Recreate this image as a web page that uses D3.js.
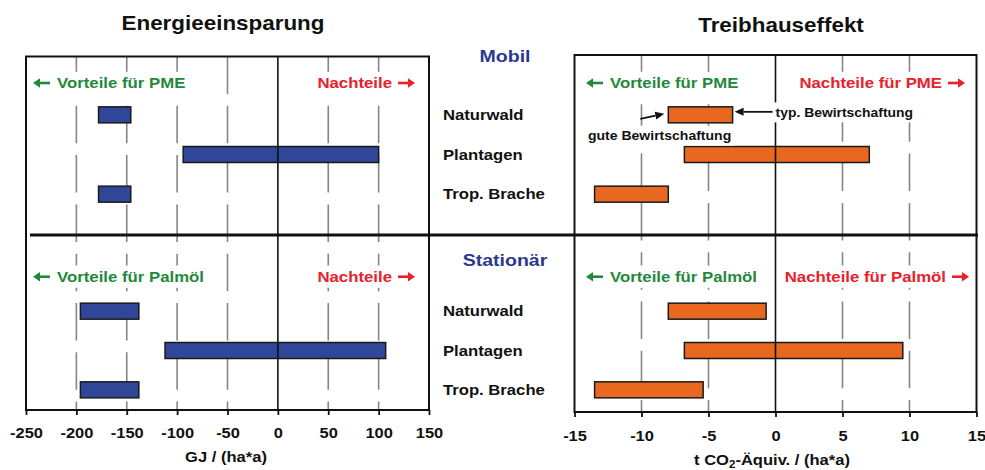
<!DOCTYPE html>
<html><head><meta charset="utf-8">
<script src="https://cdn.jsdelivr.net/npm/d3@7"></script>
<style>
body{margin:0;background:#fff}
svg{display:block}
text{font-family:"Liberation Sans",Arial,sans-serif;font-weight:bold}
</style>
</head><body>
<svg id="c" width="985" height="470"></svg>
<script>
// ---------- data ----------
const categories = ["Naturwald", "Plantagen", "Trop. Brache"];
const groups = ["Mobil", "Stationär"];
const energyMobilLow  = [-178, -94, -178];
const energyMobilHigh = [-146, 100, -146];
const energyStatLow   = [-196, -112, -196];
const energyStatHigh  = [-138, 107, -138];
const ghgMobilLow  = [-8, -6.8, -13.5];
const ghgMobilHigh = [-3.2, 7, -8];
const ghgStatLow   = [-8, -6.8, -13.5];
const ghgStatHigh  = [-0.7, 9.5, -5.4];
const energyTicks = [-250, -200, -150, -100, -50, 0, 50, 100, 150];
const ghgTicks = [-15, -10, -5, 0, 5, 10, 15];
const panelTitles = ["Energieeinsparung", "Treibhauseffekt"];
const energyAdvLabels = ["Vorteile für PME", "Vorteile für Palmöl"];
const energyDisLabels = ["Nachteile", "Nachteile"];
const ghgAdvLabels = ["Vorteile für PME", "Vorteile für Palmöl"];
const ghgDisLabels = ["Nachteile für PME", "Nachteile für Palmöl"];
const annotationTyp = "typ. Bewirtschaftung";
const annotationGut = "gute Bewirtschaftung";

// ---------- layout / style ----------
const SX = 1.15;
const GREEN = "#1f8a3b", RED = "#e8212b", NAVY = "#2a3990";
const BLUE = "#2f4699", ORANGE = "#e8681f";
const svg = d3.select("#c");
const SEP_Y = 235;
const halves = [
  {band: [95, 214], legendY: 88, groupY: 62},
  {band: [291.5, 409.5], legendY: 281.7, groupY: 266}
];
const panels = [
  {x0: 26, x1: 429, top: 56.5, bottom: 410, domain: [-250, 150], ticks: energyTicks,
   fill: BLUE, low: [energyMobilLow, energyStatLow], high: [energyMobilHigh, energyStatHigh],
   title: panelTitles[0], titleX: 223, titleY: 30, tickY: 438,
   axisTitleX: 226, axisTitleY: 462, adv: energyAdvLabels, dis: energyDisLabels,
   advX: 33, disX: [415, 415]},
  {x0: 574.5, x1: 976.5, top: 55, bottom: 412, domain: [-15, 15], ticks: ghgTicks,
   fill: ORANGE, low: [ghgMobilLow, ghgStatLow], high: [ghgMobilHigh, ghgStatHigh],
   title: panelTitles[1], titleX: 781, titleY: 32, tickY: 441.5,
   axisTitleX: 772, axisTitleY: 465, adv: ghgAdvLabels, dis: ghgDisLabels,
   advX: 586, disX: [965, 969]}
];

function addText(parent, x, y, str, size, anchor, fill, box) {
  const g = parent.append("g").attr("transform", `translate(${x},${y}) scale(${SX},1)`);
  const t = g.append("text").attr("text-anchor", anchor).attr("font-size", size)
    .attr("fill", fill).text(str);
  if (box) {
    const b = t.node().getBBox();
    g.insert("rect", "text").attr("x", b.x - 2).attr("y", b.y - 3)
      .attr("width", b.width + 4).attr("height", b.height + 6).attr("fill", "#fff");
  }
  return g;
}

function bigArrow(parent, xTail, xTip, y, color) {
  const dir = Math.sign(xTip - xTail), L = 7, W = 4.8;
  parent.append("line").attr("x1", xTail).attr("x2", xTip - dir * L + dir * 1)
    .attr("y1", y).attr("y2", y).attr("stroke", color).attr("stroke-width", 2.6);
  parent.append("path")
    .attr("d", `M${xTip},${y}L${xTip - dir * L},${y - W}L${xTip - dir * L},${y + W}Z`)
    .attr("fill", color);
}

// legend label with arrow and white background box
function legend(parent, side, xEdge, y, str, size, color) {
  const outer = parent.append("g");
  const bg = outer.append("rect").attr("fill", "#fff");
  const ay = y - 5;
  if (side === "adv") {
    bigArrow(outer, xEdge + 17, xEdge, ay, color);
    addText(outer, xEdge + 24, y, str, size, "start", color, false);
  } else {
    bigArrow(outer, xEdge - 17, xEdge, ay, color);
    addText(outer, xEdge - 23, y, str, size, "end", color, false);
  }
  const b = outer.node().getBBox();
  const top = y - size * 0.905 - 3, bot = y + size * 0.212 + 3;
  bg.attr("x", b.x - 2).attr("width", b.width + 4).attr("y", top).attr("height", bot - top);
}

function arrow(parent, x1, y1, x2, y2) {
  const a = Math.atan2(y2 - y1, x2 - x1), L = 9, W = 4;
  const bx = x2 - L * Math.cos(a), by = y2 - L * Math.sin(a);
  parent.append("line").attr("x1", x1).attr("y1", y1).attr("x2", bx).attr("y2", by)
    .attr("stroke", "#111").attr("stroke-width", 1.8);
  parent.append("path")
    .attr("d", `M${x2},${y2}L${bx - W * Math.sin(a)},${by + W * Math.cos(a)}L${bx + W * Math.sin(a)},${by - W * Math.cos(a)}Z`)
    .attr("fill", "#111");
}

const yScales = halves.map(h => d3.scaleBand().domain(categories).range(h.band));
const BAR_H = 16;

panels.forEach((p, pi) => {
  const x = d3.scaleLinear().domain(p.domain).range([p.x0, p.x1]);
  p.x = x;
  const g = svg.append("g");

  // dashed gridlines
  g.selectAll("line.grid").data(p.ticks.filter(t => t !== 0 && t !== p.domain[0] && t !== p.domain[1]))
    .join("line").attr("class", "grid")
    .attr("x1", d => x(d)).attr("x2", d => x(d))
    .attr("y1", p.top).attr("y2", p.bottom)
    .attr("stroke", "#858585").attr("stroke-width", 1.6)
    .attr("stroke-dasharray", "37.5,11.8");

  // bars
  halves.forEach((h, hi) => {
    const y = yScales[hi];
    g.selectAll(null).data(categories).join("rect")
      .attr("x", (c, i) => x(p.low[hi][i]))
      .attr("width", (c, i) => x(p.high[hi][i]) - x(p.low[hi][i]))
      .attr("y", c => y(c) + y.bandwidth() / 2 - BAR_H / 2)
      .attr("height", BAR_H)
      .attr("fill", p.fill).attr("stroke", "#1a1a1a").attr("stroke-width", 1.5);
  });

  // zero line
  g.append("line").attr("x1", x(0)).attr("x2", x(0)).attr("y1", p.top).attr("y2", p.bottom)
    .attr("stroke", "#111").attr("stroke-width", 1.6);

  // legend labels
  halves.forEach((h, hi) => {
    legend(g, "adv", p.advX, h.legendY, p.adv[hi], 14.6, GREEN);
    legend(g, "dis", p.disX[hi], h.legendY, p.dis[hi], 14.6, RED);
  });

  // frame
  g.append("rect").attr("x", p.x0).attr("y", p.top)
    .attr("width", p.x1 - p.x0).attr("height", p.bottom - p.top)
    .attr("fill", "none").attr("stroke", "#111").attr("stroke-width", 2);

  // axis
  const ax = g.append("g").attr("transform", `translate(0,${p.bottom})`)
    .call(d3.axisBottom(x).tickValues(p.ticks).tickSize(5).tickSizeOuter(0).tickFormat(d => String(d)));
  ax.select(".domain").remove();
  ax.selectAll(".tick line").attr("stroke", "#111").attr("stroke-width", 1.8);
  ax.selectAll(".tick text").attr("y", p.tickY - p.bottom).attr("dy", 0)
    .attr("font-size", 14.3).attr("fill", "#111")
    .attr("font-family", "'Liberation Sans', Arial, sans-serif").attr("font-weight", "bold")
    .attr("transform", `scale(${SX},1)`);

  // title
  addText(svg, p.titleX, p.titleY, p.title, 19.5, "middle", "#111", false);
});

// axis titles
addText(svg, panels[0].axisTitleX, panels[0].axisTitleY, "GJ / (ha*a)", 14.4, "middle", "#111", false);
{
  const g = svg.append("g").attr("transform", `translate(${panels[1].axisTitleX},${panels[1].axisTitleY}) scale(${SX},1)`);
  const t = g.append("text").attr("text-anchor", "middle").attr("font-size", 14.4).attr("fill", "#111");
  t.append("tspan").text("t CO");
  t.append("tspan").attr("font-size", 10).attr("dy", 3).text("2");
  t.append("tspan").attr("dy", -3).text("-Äquiv. / (ha*a)");
}

// separator
svg.append("line").attr("x1", 30).attr("x2", 978).attr("y1", SEP_Y).attr("y2", SEP_Y)
  .attr("stroke", "#111").attr("stroke-width", 3);

// middle labels
halves.forEach((h, hi) => {
  const y = yScales[hi];
  addText(svg, 505, h.groupY, groups[hi], 17, "middle", NAVY, false);
  categories.forEach(c => {
    addText(svg, 443, y(c) + y.bandwidth() / 2 + 5, c, 14.5, "start", "#111", false);
  });
});

// annotations on GHG / Mobil / Naturwald bar
{
  const p = panels[1], x = p.x, y = yScales[0];
  const cy = y(categories[0]) + y.bandwidth() / 2;
  const g = svg.append("g");
  const xr = x(ghgMobilHigh[0]), xl = x(ghgMobilLow[0]);
  addText(g, xr + 43, cy + 1.7, annotationTyp, 12.1, "start", "#111", true);
  arrow(g, xr + 40, cy - 3, xr + 2, cy - 3);
  addText(g, 588, cy + 25, annotationGut, 12.2, "start", "#111", true);
  arrow(g, xl - 28, cy + 4, xl - 4, cy - 1);
}
</script>
</body></html>
